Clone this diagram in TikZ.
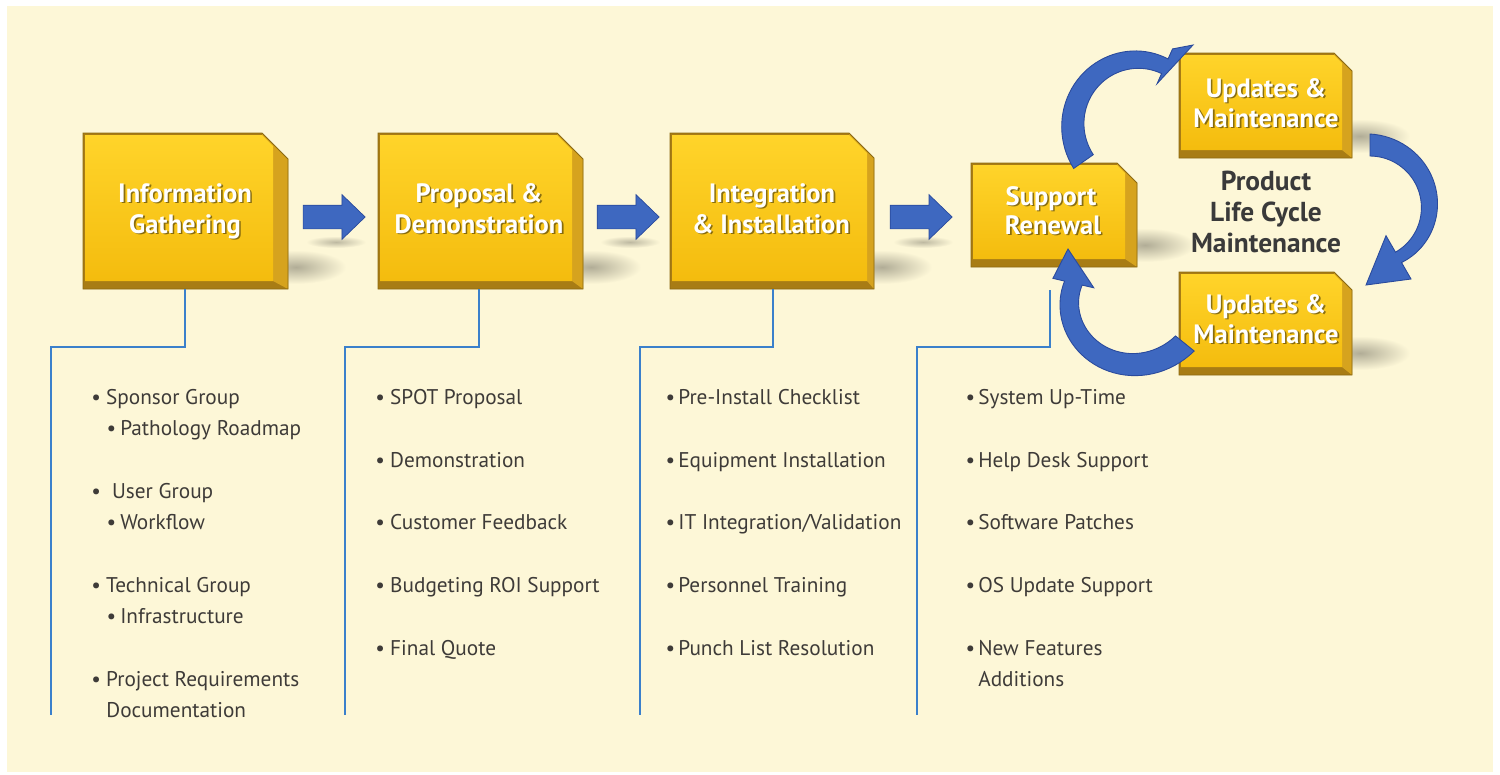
\documentclass[tikz,border=0pt]{standalone}
\usepackage{fontspec}
\setmainfont{PT Sans}
\usetikzlibrary{shapes.arrows}
\definecolor{bg}{HTML}{FDF7D7}
\definecolor{goldtop}{HTML}{FFD42A}
\definecolor{goldbot}{HTML}{F4BC0E}
\definecolor{bevelR}{HTML}{D6A31E}
\definecolor{bevelB}{HTML}{A87C14}
\definecolor{goldline}{HTML}{8C6A12}
\definecolor{arrblue}{HTML}{3E68C0}
\definecolor{arredge}{HTML}{2A4A9C}
\definecolor{connblue}{HTML}{3B80CB}
\definecolor{txt}{HTML}{3E3B38}
\definecolor{plc}{HTML}{3A3A3A}

% gold bevelled box: name, x0, y0, x1, y1 (pixel, y down), chamfer, right bevel, bottom bevel
\newcommand{\goldbox}[8]{%
  \shade[inner color=black!30!bg, outer color=bg] (#4+8,-#5+22) ellipse (50 and 17);
  \fill[bevelB] (#2,-#3) -- (#4-#6,-#3) -- (#4,-#3-#6) -- (#4,-#5) -- (#2,-#5) -- cycle;
  \fill[bevelR] (#4-#6,-#3) -- (#4,-#3-#6) -- (#4,-#5) -- (#4-#7,-#5+#8) -- (#4-#7,-#3-2-#6+#7) -- (#4-#6,-#3-2) -- cycle;
  \shade[top color=goldtop, bottom color=goldbot] (#2+2,-#3-2) -- (#4-#6,-#3-2) -- (#4-#7,-#3-2-#6+#7) -- (#4-#7,-#5+#8) -- (#2+2,-#5+#8) -- cycle;
  \draw[goldline, line width=0.5pt] (#2,-#3) -- (#4-#6,-#3) -- (#4,-#3-#6) -- (#4,-#5) -- (#2,-#5) -- cycle;
  \node[inner sep=0pt, outer sep=0pt, minimum width={(#4-#2)*0.02cm}, minimum height={(#5-#3)*0.02cm}] (#1) at ({(#2+#4)/2},{-(#3+#5)/2}) {};
}
% heading text with shadow
\newcommand{\htext}[4]{%
  \node[htxt, text=black, opacity=0.45] (#1s) at (#2+1.6,-#3-1.6) {#4};
  \node[htxt, text=white] (#1) at (#2,-#3) {#4};
}
% list line: name, x, baseline y, bullet box width, text
\newcommand{\litem}[5]{\node[litem] (#1) at (#2,-#3) {\makebox[#4][c]{•}#5};}
\newcommand{\ltext}[4]{\node[litem] (#1) at (#2,-#3) {#4};}
% curved tapered arrow: cx, cy, theta start, theta end, r0, r1, w0, w1, head half width; tip in \tipx,\tipy
\newcommand{\curvarrow}[9]{%
  \fill[arrblue, draw=arredge, line width=0.5pt]
    plot[domain=0:1, samples=40] ({#1+(#5+(#6-(#5))*\x+#7+(#8-(#7))*\x)*cos(#3+(#4-(#3))*\x)}, {-#2+(#5+(#6-(#5))*\x+#7+(#8-(#7))*\x)*sin(#3+(#4-(#3))*\x)})
    -- ({#1+(#6+#9)*cos(#4)}, {-#2+(#6+#9)*sin(#4)})
    -- (\tipx,-\tipy)
    -- ({#1+(#6-#9)*cos(#4)}, {-#2+(#6-#9)*sin(#4)})
    -- plot[domain=0:1, samples=40] ({#1+(#6+(#5-(#6))*\x-#8-(#7-(#8))*\x)*cos(#4+(#3-(#4))*\x)}, {-#2+(#6+(#5-(#6))*\x-#8-(#7-(#8))*\x)*sin(#4+(#3-(#4))*\x)})
    -- cycle;
}

\begin{document}
\begin{tikzpicture}[x=0.02cm, y=0.02cm,
  conn/.style={draw=connblue, line width=1.6pt},
  blockarrow/.style={single arrow, fill=arrblue, draw=arredge, line width=0.4pt, inner xsep=0pt, inner ysep=0.23cm,
    minimum height=1.24cm, single arrow head extend=0.21cm, single arrow tip angle=88},
  htxt/.style={anchor=base, inner sep=0pt, font=\fontsize{15.1}{17}\selectfont\bfseries},
  litem/.style={anchor=base west, inner sep=0pt, text=txt, font=\fontsize{12.1}{15}\selectfont},
  plctxt/.style={anchor=base, inner sep=0pt, text=plc, font=\fontsize{15.6}{18}\selectfont\bfseries}]

\useasboundingbox (0,0) rectangle (1500,-774);
\fill[white] (0,0) rectangle (1500,-774);
\fill[bg] (7,-6) rectangle (1493,-772);

% connector corner / end coordinates
\coordinate (k1) at (51,-347);  \coordinate (e1) at (51,-715);
\coordinate (k2) at (345,-347); \coordinate (e2) at (345,-715);
\coordinate (k3) at (640,-347); \coordinate (e3) at (640,-715);
\coordinate (s4) at (1050,-290);
\coordinate (k4) at (917,-347); \coordinate (e4) at (917,-715);

% arrow shadows
\foreach \ax in {328,622,915}{
  \shade[inner color=black!25!bg, outer color=bg] (\ax+8,-242) ellipse (30 and 6);
}

% boxes
\goldbox{b1}{83}{133}{288}{289}{26}{15}{8}
\goldbox{b2}{378}{133}{583}{289}{26}{11}{8}
\goldbox{b3}{670}{133}{874}{289}{25}{7}{8}
\goldbox{b4}{971}{163}{1137}{267}{20}{12}{8}
\goldbox{u1}{1179}{53}{1352}{158}{18}{10}{8}
\goldbox{u2}{1179}{272}{1352}{375}{18}{10}{8}

% connectors
\draw[conn] ([xshift=-0.01cm]b1.south) |- (k1) -- (e1);
\draw[conn] ([xshift=-0.03cm]b2.south) |- (k2) -- (e2);
\draw[conn] ([xshift=0.02cm]b3.south) |- (k3) -- (e3);
\draw[conn] (s4) |- (k4) -- (e4);

% straight block arrows
\node[blockarrow] (a1) at (328,-217) {};
\node[blockarrow] (a2) at (622,-217) {};
\node[blockarrow] (a3) at (915,-217) {};

% box headings
\htext{t1a}{185}{202}{Information}
\htext{t1b}{185}{233}{Gathering}
\htext{t2a}{479}{202}{Proposal \&}
\htext{t2b}{479}{233}{Demonstration}
\htext{t3a}{772}{202}{Integration}
\htext{t3b}{771}{233}{\& Installation}
\htext{t4a}{1051}{205}{Support}
\htext{t4b}{1053}{234}{Renewal}
\htext{t5a}{1266}{97}{Updates \&}
\htext{t5b}{1266}{127}{Maintenance}
\htext{t6a}{1266}{313}{Updates \&}
\htext{t6b}{1266}{343}{Maintenance}

% centre label
\node[plctxt] (p1) at (1266,-190) {Product};
\node[plctxt] (p2) at (1266,-221) {Life Cycle};
\node[plctxt] (p3) at (1266,-252) {Maintenance};

% curved arrows
\def\tipx{1193}\def\tipy{45}
\curvarrow{1140}{122}{215}{66}{69}{61}{12}{8}{19}
\def\tipx{1366}\def\tipy{285}
\curvarrow{1370}{208}{90}{-60}{63}{57}{11}{6}{25}
\def\tipx{1068}\def\tipy{249}
\curvarrow{1125}{295}{-39}{-193}{77}{53}{12}{9}{21}

% column 1
\litem{l11}{86}{404}{11.3pt}{Sponsor Group}
\litem{l12}{102}{435}{10.2pt}{Pathology Roadmap}
\litem{l13}{80}{498}{18.1pt}{User Group}
\litem{l14}{102}{529}{10.2pt}{Workflow}
\litem{l15}{86}{592}{11.3pt}{Technical Group}
\litem{l16}{102}{623}{10.2pt}{Infrastructure}
\litem{l17}{86}{686}{11.3pt}{Project Requirements}
\ltext{l18}{106}{717}{Documentation}
% column 2
\litem{l21}{370}{404}{11.3pt}{SPOT Proposal}
\litem{l22}{370}{467}{11.3pt}{Demonstration}
\litem{l23}{370}{529}{11.3pt}{Customer Feedback}
\litem{l24}{370}{592}{11.3pt}{Budgeting ROI Support}
\litem{l25}{370}{655}{11.3pt}{Final Quote}
% column 3
\litem{l31}{662}{404}{9.1pt}{Pre-Install Checklist}
\litem{l32}{662}{467}{9.1pt}{Equipment Installation}
\litem{l33}{662}{529}{9.1pt}{IT Integration/Validation}
\litem{l34}{662}{592}{9.1pt}{Personnel Training}
\litem{l35}{662}{655}{9.1pt}{Punch List Resolution}
% column 4
\litem{l41}{962}{404}{9.1pt}{System Up-Time}
\litem{l42}{962}{467}{9.1pt}{Help Desk Support}
\litem{l43}{962}{529}{9.1pt}{Software Patches}
\litem{l44}{962}{592}{9.1pt}{OS Update Support}
\litem{l45}{962}{655}{9.1pt}{New Features}
\ltext{l46}{978}{686}{Additions}
\end{tikzpicture}
\end{document}
